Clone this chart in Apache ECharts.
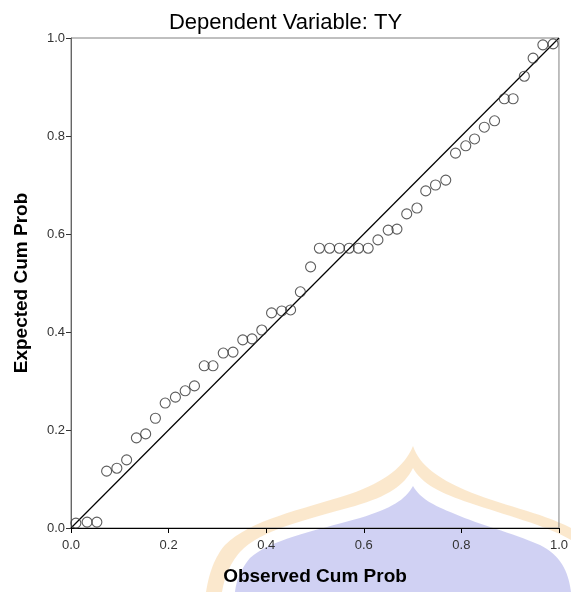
<!DOCTYPE html>
<html>
<head>
<meta charset="utf-8">
<script src="https://cdn.jsdelivr.net/npm/echarts@6/dist/echarts.min.js"></script>
<style>html,body{margin:0;padding:0;background:#fff}#c{width:571px;height:592px}</style>
</head>
<body>
<div id="c"></div>
<script>
var titleText = 'Dependent Variable: TY';
var xName = 'Observed Cum Prob';
var yName = 'Expected Cum Prob';
var tickLabels = ['0.0', '0.2', '0.4', '0.6', '0.8', '1.0'];
var observed = [0.010, 0.033, 0.053, 0.073, 0.094, 0.114, 0.134, 0.153, 0.173, 0.193,
  0.214, 0.234, 0.253, 0.273, 0.291, 0.312, 0.332, 0.352, 0.371, 0.391,
  0.411, 0.432, 0.450, 0.470, 0.491, 0.509, 0.530, 0.550, 0.570, 0.589,
  0.609, 0.629, 0.650, 0.668, 0.688, 0.709, 0.727, 0.747, 0.768, 0.788,
  0.809, 0.827, 0.847, 0.868, 0.888, 0.906, 0.929, 0.947, 0.967, 0.988];
var expected = [0.010, 0.012, 0.012, 0.116, 0.122, 0.139, 0.184, 0.192, 0.224, 0.255,
  0.267, 0.280, 0.290, 0.331, 0.331, 0.357, 0.359, 0.384, 0.386, 0.404,
  0.439, 0.443, 0.445, 0.482, 0.533, 0.571, 0.571, 0.571, 0.571, 0.571,
  0.571, 0.588, 0.608, 0.610, 0.641, 0.653, 0.688, 0.700, 0.710, 0.765,
  0.780, 0.794, 0.818, 0.831, 0.876, 0.876, 0.922, 0.959, 0.986, 0.988];
var refLine = [[0, 0], [1, 1]];

// watermark outline helper (decorative background shape)
function bez(p0, p1, p2, p3, n, out) {
  for (var i = 1; i <= n; i++) {
    var t = i / n, u = 1 - t;
    out.push([
      u*u*u*p0[0] + 3*u*u*t*p1[0] + 3*u*t*t*p2[0] + t*t*t*p3[0],
      u*u*u*p0[1] + 3*u*u*t*p1[1] + 3*u*t*t*p2[1] + t*t*t*p3[1]
    ]);
  }
}
function shapePts(segs) {
  var pts = [segs[0]];
  var cur = segs[0];
  for (var i = 1; i < segs.length; i++) {
    var s = segs[i];
    if (s.length === 3) { bez(cur, s[0], s[1], s[2], 16, pts); cur = s[2]; }
    else { pts.push(s[0]); cur = s[0]; }
  }
  return pts;
}
var outer = shapePts([[413,446], [[405,466],[385,482],[350,494]], [[300,510],[250,520],[225,545]], [[212,560],[208,580],[206,592]], [[571,592]], [[571,528]], [[540,512],[500,505],[465,490]], [[438,478],[420,466],[413,446]]]);
var gap = shapePts([[413,468], [[404,486],[388,496],[355,506]], [[305,520],[260,530],[240,552]], [[228,566],[224,580],[222,592]], [[571,592]], [[571,540]], [[545,525],[505,515],[470,503]], [[440,493],[422,484],[413,468]]]);
var inner = shapePts([[413,486], [[405,500],[392,508],[360,518]], [[310,532],[270,540],[250,558]], [[240,570],[236,582],[235,592]], [[571,592]], [[568,570],[560,555],[540,545]], [[510,532],[480,525],[455,514]], [[432,505],[420,498],[413,486]]]);

var points = observed.map(function (v, i) { return [v, expected[i]]; });
var chart = echarts.init(document.getElementById('c'), null, {renderer: 'canvas'});
var font = 'Arial, "Liberation Sans", sans-serif';
chart.setOption({
  animation: false,
  backgroundColor: 'transparent',
  graphic: [
    {type: 'polygon', z: -100, silent: true, shape: {points: outer}, style: {fill: 'rgba(247,210,155,0.5)'}},
    {type: 'polygon', z: -99, silent: true, shape: {points: gap}, style: {fill: '#ffffff'}},
    {type: 'polygon', z: -98, silent: true, shape: {points: inner}, style: {fill: 'rgba(196,198,240,0.8)'}}
  ],
  title: {
    text: titleText, left: 'center', top: 7,
    textStyle: {fontFamily: font, fontSize: 22, fontWeight: 'normal', color: '#000'}
  },
  grid: {left: 71, right: 9, top: 38, bottom: 64, show: true, borderColor: '#808080', borderWidth: 1, backgroundColor: 'transparent'},
  xAxis: {
    type: 'value', min: 0, max: 1, interval: 0.2,
    name: xName, nameLocation: 'middle', nameGap: 39,
    nameTextStyle: {fontFamily: font, fontSize: 19, fontWeight: 'bold', color: '#000'},
    axisLine: {show: true, onZero: false, lineStyle: {color: '#000', width: 1}},
    axisTick: {show: true, length: 5, lineStyle: {color: '#000'}},
    axisLabel: {margin: 11, fontFamily: font, fontSize: 13, color: '#333',
      formatter: function (v) { return tickLabels[Math.round(v * 5)]; }},
    splitLine: {show: false}
  },
  yAxis: {
    type: 'value', min: 0, max: 1, interval: 0.2,
    name: yName, nameLocation: 'middle', nameGap: 40, nameRotate: 90,
    nameTextStyle: {fontFamily: font, fontSize: 19, fontWeight: 'bold', color: '#000'},
    axisLine: {show: true, onZero: false, lineStyle: {color: '#666', width: 1}},
    axisTick: {show: true, length: 5, lineStyle: {color: '#333'}},
    axisLabel: {margin: 6, fontFamily: font, fontSize: 13, color: '#333',
      formatter: function (v) { return tickLabels[Math.round(v * 5)]; }},
    splitLine: {show: false}
  },
  series: [
    {type: 'line', data: refLine, symbol: 'none', z: 3,
     lineStyle: {color: '#000', width: 1.2}},
    {type: 'scatter', data: points, symbol: 'circle', symbolSize: 10, z: 4,
     itemStyle: {color: 'rgba(0,0,0,0)', borderColor: '#333', borderWidth: 1.1}}
  ]
});
</script>
</body>
</html>
